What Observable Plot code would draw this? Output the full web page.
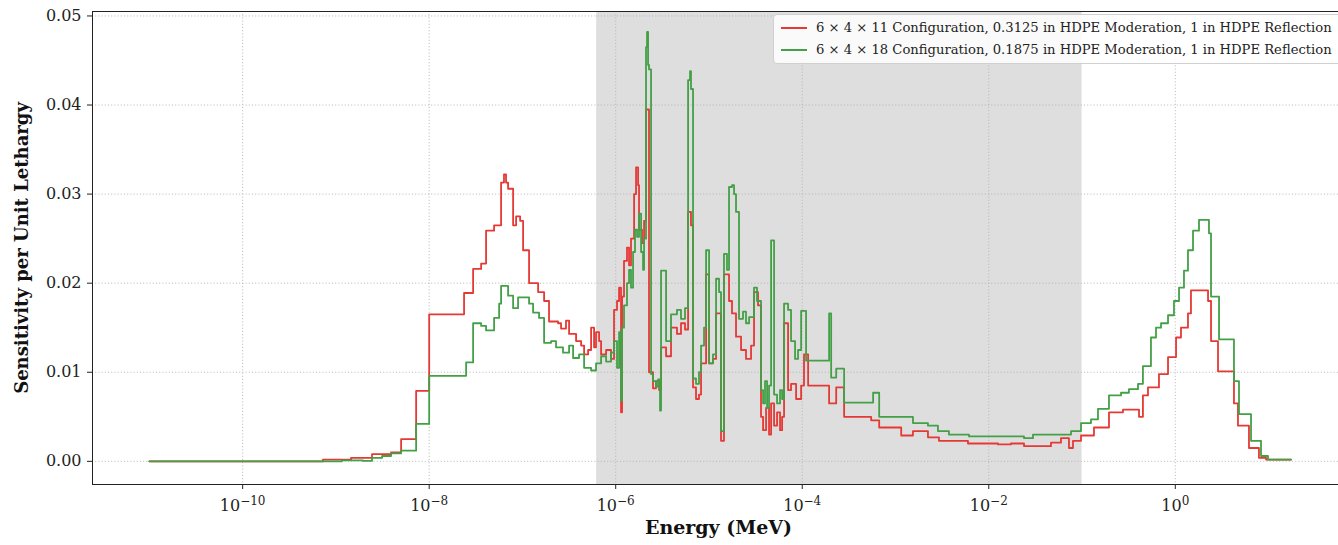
<!DOCTYPE html>
<html>
<head>
<meta charset="utf-8">
<script src="https://cdn.jsdelivr.net/npm/d3@7"></script>
<script src="https://cdn.jsdelivr.net/npm/@observablehq/plot@0.6"></script>
<style>
  html, body { margin: 0; padding: 0; overflow: hidden; background: white; }
  #wrap { position: relative; width: 1352px; height: 545px; }
  #legend {
    position: absolute; left: 773px; top: 14px; width: 600px; height: 50px;
    background: rgba(255,255,255,0.85); border: 1px solid #d0d0d0; border-radius: 4px;
    font-family: "DejaVu Serif", serif; font-size: 13.15px; color: #222; box-sizing: border-box;
  }
  .row { position: absolute; left: 7px; display: flex; align-items: center; white-space: nowrap; line-height: 16px; }
  .sw { width: 26px; height: 2px; margin-right: 9px; }
</style>
</head>
<body>
<div id="wrap"><div id="legend"></div></div>
<script>
// Series names
const seriesNames = [
  "6 × 4 × 11 Configuration, 0.3125 in HDPE Moderation, 1 in HDPE Reflection",
  "6 × 4 × 18 Configuration, 0.1875 in HDPE Moderation, 1 in HDPE Reflection"
];
const seriesColors = ["#e53935", "#43a047"];

// Shaded band (MeV)
const bandLo = 6.25e-7;
const bandHi = 0.1;

// Axis ticks
const xTickExps = [-10, -8, -6, -4, -2, 0];
const yTicks = [0, 0.01, 0.02, 0.03, 0.04, 0.05];

// Red series: energy group lower edge as log10(E/MeV), sensitivity per unit lethargy (step-after)
const redLogE = [
  -11.0, -9.139, -8.838, -8.613, -8.409, -8.301, -8.140, -8.0, -7.626, -7.529,
  -7.443, -7.390, -7.304, -7.229, -7.198, -7.176, -7.154, -7.100, -7.068, -7.025,
  -6.993, -6.929, -6.832, -6.768, -6.715, -6.618, -6.586, -6.533, -6.500, -6.425,
  -6.371, -6.339, -6.296, -6.264, -6.232, -6.211, -6.178, -6.157, -6.103, -6.050,
  -6.018, -5.986, -5.964, -5.943, -5.932, -5.911, -5.879, -5.857, -5.836, -5.803,
  -5.782, -5.760, -5.750, -5.718, -5.696, -5.675, -5.643, -5.600, -5.568, -5.535,
  -5.514, -5.460, -5.407, -5.343, -5.300, -5.257, -5.224, -5.193, -5.171, -5.139,
  -5.107, -5.085, -5.031, -4.999, -4.957, -4.924, -4.871, -4.839, -4.785, -4.753,
  -4.710, -4.656, -4.603, -4.549, -4.517, -4.474, -4.442, -4.420, -4.388, -4.356,
  -4.334, -4.302, -4.270, -4.238, -4.216, -4.195, -4.152, -4.120, -4.066, -4.012,
  -3.981, -3.937, -3.712, -3.636, -3.551, -3.261, -3.175, -2.939, -2.813, -2.652,
  -2.534, -2.223, -1.901, -1.762, -1.622, -1.333, -1.226, -1.140, -1.097, -1.011,
  -0.872, -0.711, -0.561, -0.389, -0.347, -0.293, -0.175, -0.078, 0.008, 0.061,
  0.136, 0.168, 0.351, 0.383, 0.458, 0.629, 0.672, 0.790, 0.897, 0.973, 1.241
];
const redValues = [
  0, 0.0002, 0.0004, 0.0008, 0.0010, 0.0025, 0.0079, 0.0165, 0.0189, 0.0216,
  0.0222, 0.0259, 0.0265, 0.0313, 0.0322, 0.0313, 0.0306, 0.0265, 0.0275, 0.0270,
  0.0237, 0.0200, 0.0190, 0.0180, 0.0157, 0.0155, 0.0149, 0.0158, 0.0143, 0.0135,
  0.0130, 0.0120, 0.0125, 0.0150, 0.0128, 0.0145, 0.0135, 0.0120, 0.0125, 0.0115,
  0.0170, 0.0180, 0.0195, 0.0055, 0.0185, 0.0225, 0.0240, 0.0220, 0.0250, 0.0300,
  0.0330, 0.0310, 0.0260, 0.0245, 0.0270, 0.0395, 0.0100, 0.0082, 0.0090, 0.0080,
  0.0128, 0.0118, 0.0150, 0.0143, 0.0155, 0.0148, 0.0280, 0.0265, 0.0083, 0.0070,
  0.0075, 0.0110, 0.0210, 0.0110, 0.0115, 0.0166, 0.0023, 0.0210, 0.0180, 0.0166,
  0.0140, 0.0125, 0.0115, 0.0130, 0.0190, 0.0175, 0.0050, 0.0035, 0.0060, 0.0030,
  0.0065, 0.0040, 0.0055, 0.0035, 0.0050, 0.0155, 0.0080, 0.0087, 0.0070, 0.0085,
  0.0120, 0.0085, 0.0065, 0.0083, 0.0050, 0.0046, 0.0038, 0.0029, 0.0034, 0.0027,
  0.0023, 0.0020, 0.0019, 0.0020, 0.0017, 0.0021, 0.0026, 0.0015, 0.0023, 0.0029,
  0.0038, 0.0055, 0.0058, 0.0050, 0.0074, 0.0083, 0.0098, 0.0117, 0.0139, 0.0150,
  0.0166, 0.0192, 0.0180, 0.0135, 0.0101, 0.0065, 0.0040, 0.0015, 0.0004, 0.0002, 0.0002
];

// Green series
const greenLogE = [
  -11.0, -8.935, -8.710, -8.613, -8.505, -8.409, -8.301, -8.140, -8.0, -7.604,
  -7.529, -7.443, -7.390, -7.304, -7.250, -7.229, -7.154, -7.100, -7.047, -6.929,
  -6.886, -6.822, -6.768, -6.693, -6.640, -6.565, -6.500, -6.457, -6.393, -6.339,
  -6.264, -6.211, -6.157, -6.103, -6.050, -6.018, -5.986, -5.964, -5.943, -5.932,
  -5.911, -5.879, -5.857, -5.836, -5.814, -5.793, -5.771, -5.750, -5.728, -5.707,
  -5.696, -5.675, -5.664, -5.653, -5.643, -5.621, -5.600, -5.568, -5.546, -5.525,
  -5.514, -5.460, -5.407, -5.343, -5.300, -5.257, -5.224, -5.203, -5.193, -5.171,
  -5.139, -5.107, -5.085, -5.053, -5.031, -4.999, -4.957, -4.924, -4.892, -4.871,
  -4.839, -4.807, -4.785, -4.753, -4.731, -4.710, -4.678, -4.635, -4.603, -4.570,
  -4.517, -4.485, -4.442, -4.420, -4.399, -4.377, -4.356, -4.334, -4.302, -4.270,
  -4.238, -4.216, -4.195, -4.152, -4.120, -4.077, -4.045, -4.012, -3.959, -3.712,
  -3.690, -3.636, -3.551, -3.240, -3.175, -2.813, -2.652, -2.545, -2.427, -2.212,
  -1.622, -1.526, -1.118, -1.011, -0.904, -0.829, -0.711, -0.582, -0.497, -0.400,
  -0.347, -0.261, -0.207, -0.153, -0.078, -0.014, 0.040, 0.093, 0.136, 0.190,
  0.254, 0.361, 0.383, 0.469, 0.629, 0.683, 0.812, 0.919, 0.994, 1.241
];
const greenValues = [
  0, 0.0001, 0.00005, 0.0004, 0.0006, 0.0009, 0.0012, 0.0042, 0.0096, 0.0111,
  0.0155, 0.0152, 0.0147, 0.0161, 0.0177, 0.0197, 0.0186, 0.0172, 0.0184, 0.0177,
  0.0167, 0.0161, 0.0133, 0.0135, 0.0128, 0.0122, 0.0130, 0.0116, 0.0120, 0.0105,
  0.0102, 0.0110, 0.0118, 0.0112, 0.0122, 0.0135, 0.0105, 0.0145, 0.0068, 0.0150,
  0.0175, 0.0200, 0.0215, 0.0195, 0.0235, 0.0260, 0.0252, 0.0278, 0.0235, 0.0215,
  0.0250, 0.0465, 0.0482, 0.0445, 0.0440, 0.0098, 0.0090, 0.0084, 0.0092, 0.0057,
  0.0214, 0.0135, 0.0165, 0.0170, 0.0160, 0.0172, 0.0428, 0.0438, 0.0418, 0.0093,
  0.0087, 0.0100, 0.0130, 0.0150, 0.0237, 0.0110, 0.0120, 0.0205, 0.0190, 0.0034,
  0.0233, 0.0215, 0.0308, 0.0310, 0.0300, 0.0280, 0.0160, 0.0168, 0.0155, 0.0162,
  0.0195, 0.0180, 0.0080, 0.0065, 0.0090, 0.0060, 0.0085, 0.0248, 0.0075, 0.0065,
  0.0080, 0.0070, 0.0177, 0.0170, 0.0135, 0.0115, 0.0125, 0.0169, 0.0113, 0.0166,
  0.0094, 0.0104, 0.0066, 0.0077, 0.0050, 0.0043, 0.0040, 0.0034, 0.0030, 0.0028,
  0.0026, 0.0030, 0.0034, 0.0043, 0.0047, 0.0059, 0.0074, 0.0077, 0.0081, 0.0087,
  0.0107, 0.0139, 0.0150, 0.0155, 0.0164, 0.0180, 0.0195, 0.0214, 0.0237, 0.0259,
  0.0271, 0.0256, 0.0185, 0.0137, 0.0090, 0.0053, 0.0023, 0.0006, 0.0002, 0.0002
];

const redData = redLogE.map((e, i) => ({E: 10 ** e, v: redValues[i]}));
const greenData = greenLogE.map((e, i) => ({E: 10 ** e, v: greenValues[i]}));
const xTicks = xTickExps.map(e => 10 ** e);

const fmtX = d => "10^" + Math.round(Math.log10(d));

const grid = {stroke: "#b0b0b0", strokeOpacity: 1, strokeWidth: 0.9, strokeDasharray: "1,2.2"};

const chart = Plot.plot({
  width: 1352,
  height: 545,
  marginLeft: 92,
  marginRight: 0,
  marginTop: 11,
  marginBottom: 61,
  style: {fontFamily: "DejaVu Serif", fontSize: "16px", color: "#222", background: "white", maxWidth: "none", overflow: "visible"},
  x: {type: "log", domain: [10 ** -11.61, 10 ** 1.9]},
  y: {domain: [-0.0026, 0.0505]},
  marks: [
    Plot.rect([{lo: bandLo, hi: bandHi}], {x1: "lo", x2: "hi", fill: "#dedede"}),
    Plot.gridX(xTicks, grid),
    Plot.gridY(yTicks, grid),
    Plot.line(redData, {x: "E", y: "v", curve: "step-after", stroke: seriesColors[0], strokeWidth: 1.8}),
    Plot.line(greenData, {x: "E", y: "v", curve: "step-after", stroke: seriesColors[1], strokeWidth: 1.8}),
    Plot.frame({stroke: "#222", strokeWidth: 1}),
    Plot.axisX(xTicks, {tickFormat: fmtX, tickSize: 5, tickPadding: 10, label: null, fontSize: 16, stroke: "#222"}),
    Plot.axisY(yTicks, {tickFormat: d3.format(".2f"), tickSize: 5, tickPadding: 6, label: null, fontSize: 16, stroke: "#222"}),
    Plot.text(["Energy (MeV)"], {frameAnchor: "bottom", dy: 49, dx: -4, fontWeight: "bold", fontSize: 19, fill: "#111"}),
    Plot.text(["Sensitivity per Unit Lethargy"], {frameAnchor: "left", rotate: -90, textAnchor: "middle", dx: -70, fontWeight: "bold", fontSize: 18, fill: "#111"})
  ]
});
document.getElementById("wrap").prepend(chart);

// Render x tick exponents as superscripts
chart.querySelectorAll("text").forEach(t => {
  const s = t.textContent;
  if (!s.startsWith("10^")) return;
  const exp = s.slice(3).replace("-", "\u2212");
  t.textContent = "";
  const base = document.createElementNS("http://www.w3.org/2000/svg", "tspan");
  base.textContent = "10";
  const sp = document.createElementNS("http://www.w3.org/2000/svg", "tspan");
  sp.textContent = exp;
  sp.setAttribute("dy", "-0.45em");
  sp.setAttribute("font-size", "12");
  t.append(base, sp);
});

const legend = document.getElementById("legend");
seriesNames.forEach((name, i) => {
  const row = document.createElement("div");
  row.className = "row";
  row.style.top = (i === 0 ? 5 : 27) + "px";
  const sw = document.createElement("div");
  sw.className = "sw";
  sw.style.background = seriesColors[i];
  const t = document.createElement("span");
  t.textContent = name;
  row.append(sw, t);
  legend.append(row);
});
</script>
</body>
</html>
